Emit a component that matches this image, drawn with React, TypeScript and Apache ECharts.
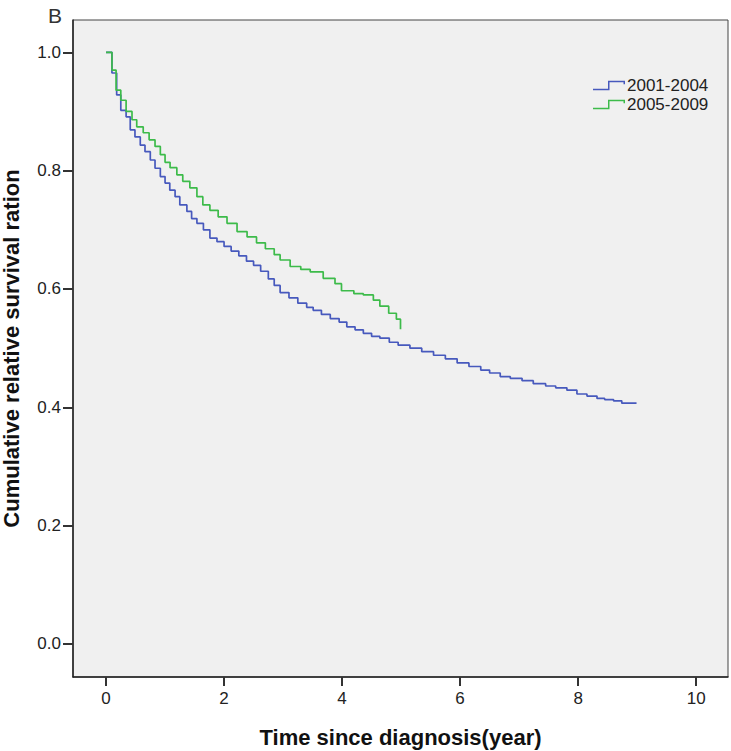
import React, { useEffect, useRef } from "react";
import * as echarts from "echarts";

// Time since diagnosis (years) and cumulative relative survival, 2001-2004 cohort
const times2001 = [0, 0.1, 0.18, 0.25, 0.34, 0.41, 0.49, 0.58, 0.66, 0.75, 0.83, 0.92, 1.0, 1.08, 1.17, 1.25, 1.37, 1.45, 1.54, 1.65, 1.76, 1.88, 2.0, 2.12, 2.25, 2.38, 2.5, 2.62, 2.75, 2.85, 2.95, 3.1, 3.25, 3.4, 3.51, 3.65, 3.8, 3.95, 4.08, 4.22, 4.36, 4.5, 4.64, 4.8, 4.95, 5.15, 5.35, 5.55, 5.75, 5.95, 6.15, 6.35, 6.5, 6.68, 6.85, 7.05, 7.24, 7.45, 7.62, 7.81, 7.98, 8.15, 8.32, 8.45, 8.6, 8.74, 8.99];
const surv2001 = [1.0, 0.965, 0.928, 0.902, 0.891, 0.869, 0.857, 0.843, 0.832, 0.818, 0.804, 0.79, 0.779, 0.767, 0.756, 0.742, 0.731, 0.719, 0.711, 0.7, 0.686, 0.68, 0.672, 0.664, 0.656, 0.647, 0.64, 0.63, 0.617, 0.606, 0.594, 0.585, 0.576, 0.569, 0.564, 0.557, 0.55, 0.544, 0.536, 0.531, 0.525, 0.52, 0.517, 0.51, 0.505, 0.5, 0.494, 0.488, 0.482, 0.475, 0.469, 0.463, 0.458, 0.452, 0.449, 0.445, 0.44, 0.436, 0.433, 0.429, 0.4225, 0.419, 0.415, 0.413, 0.411, 0.407, 0.407];

// 2005-2009 cohort
const times2005 = [0, 0.1, 0.17, 0.25, 0.34, 0.44, 0.52, 0.63, 0.73, 0.83, 0.92, 1.0, 1.085, 1.2, 1.3, 1.42, 1.54, 1.64, 1.76, 1.9, 2.05, 2.22, 2.39, 2.55, 2.7, 2.85, 2.95, 3.12, 3.3, 3.46, 3.68, 3.88, 3.99, 4.2, 4.36, 4.53, 4.64, 4.79, 4.92, 4.99];
const surv2005 = [1.0, 0.97, 0.936, 0.919, 0.9, 0.886, 0.874, 0.864, 0.852, 0.841, 0.827, 0.814, 0.805, 0.793, 0.782, 0.771, 0.756, 0.742, 0.733, 0.722, 0.711, 0.697, 0.688, 0.678, 0.668, 0.658, 0.649, 0.638, 0.633, 0.629, 0.618, 0.609, 0.597, 0.592, 0.59, 0.581, 0.571, 0.559, 0.549, 0.532];

const seriesNames = ["2001-2004", "2005-2009"];
const xTicks = [0, 2, 4, 6, 8, 10];
const yTicks = [0, 0.2, 0.4, 0.6, 0.8, 1.0];

const BLUE = "#4759bd";
const GREEN = "#3dbb4a";
const FONT = "'Liberation Sans', Arial, sans-serif";
const STEP_ICON =
  "path://M0,8 L15,8 L15,0 L32,0 L32,3.5 L30.5,3.5 L30.5,1.5 L16.5,1.5 L16.5,9.5 L0,9.5 Z";

export default function App() {
  const ref = useRef<HTMLDivElement>(null);
  useEffect(() => {
    if (!ref.current) return;
    const chart = echarts.init(ref.current, null, { renderer: "svg" });
    const d2001 = times2001.map((t, i) => [t, surv2001[i]]);
    const d2005 = times2005.map((t, i) => [t, surv2005[i]]);
    chart.setOption({
      animation: false,
      backgroundColor: "#ffffff",
      title: {
        text: "B",
        left: 43,
        top: 0,
        textStyle: { fontFamily: FONT, fontSize: 21, fontWeight: "normal", color: "#333" },
      },
      legend: {
        orient: "vertical",
        left: 588,
        top: 72,
        itemWidth: 32,
        itemHeight: 10,
        itemGap: 2,
        icon: STEP_ICON,
        textStyle: { fontFamily: FONT, fontSize: 17, color: "#222", padding: [0, 0, 0, -3] },
        data: seriesNames,
      },
      grid: {
        left: 73,
        top: 20,
        right: 3,
        bottom: 74,
        outerBoundsMode: "none",
        containLabel: false,
        show: true,
        backgroundColor: "#f0f0f0",
        borderColor: "#444",
        borderWidth: 1,
      },
      xAxis: {
        type: "value",
        min: -0.56,
        max: 10.54,
        name: "Time since diagnosis(year)",
        nameLocation: "middle",
        nameGap: 49,
        nameTextStyle: { fontFamily: FONT, fontSize: 22, fontWeight: "bold", color: "#111" },
        splitLine: { show: false },
        axisLine: { show: true, onZero: false, lineStyle: { color: "#222", width: 1.5 } },
        axisTick: { show: true, length: 9, customValues: xTicks, lineStyle: { color: "#333", width: 2 } },
        axisLabel: {
          customValues: xTicks,
          margin: 13,
          fontFamily: FONT,
          fontSize: 17,
          color: "#222",
          formatter: (v: number) => String(v),
        },
      },
      yAxis: {
        type: "value",
        min: -0.0558,
        max: 1.0546,
        name: "Cumulative relative survival ration",
        nameLocation: "middle",
        nameGap: 51,
        nameTextStyle: { fontFamily: FONT, fontSize: 22, fontWeight: "bold", color: "#111" },
        splitLine: { show: false },
        axisLine: { show: true, onZero: false, lineStyle: { color: "#222", width: 1.5 } },
        axisTick: { show: true, length: 10, customValues: yTicks, lineStyle: { color: "#333", width: 2 } },
        axisLabel: {
          customValues: yTicks,
          margin: 12,
          fontFamily: FONT,
          fontSize: 17,
          color: "#222",
          formatter: (v: number) => v.toFixed(1),
        },
      },
      series: [
        {
          name: seriesNames[0],
          type: "line",
          step: "end",
          showSymbol: false,
          color: BLUE,
          lineStyle: { color: BLUE, width: 1.7 },
          data: d2001,
        },
        {
          name: seriesNames[1],
          type: "line",
          step: "end",
          showSymbol: false,
          color: GREEN,
          lineStyle: { color: GREEN, width: 1.7 },
          data: d2005,
        },
      ],
    });
    return () => chart.dispose();
  }, []);
  return <div ref={ref} style={{ width: 731, height: 751, position: "absolute", left: 0, top: 0 }} />;
}
